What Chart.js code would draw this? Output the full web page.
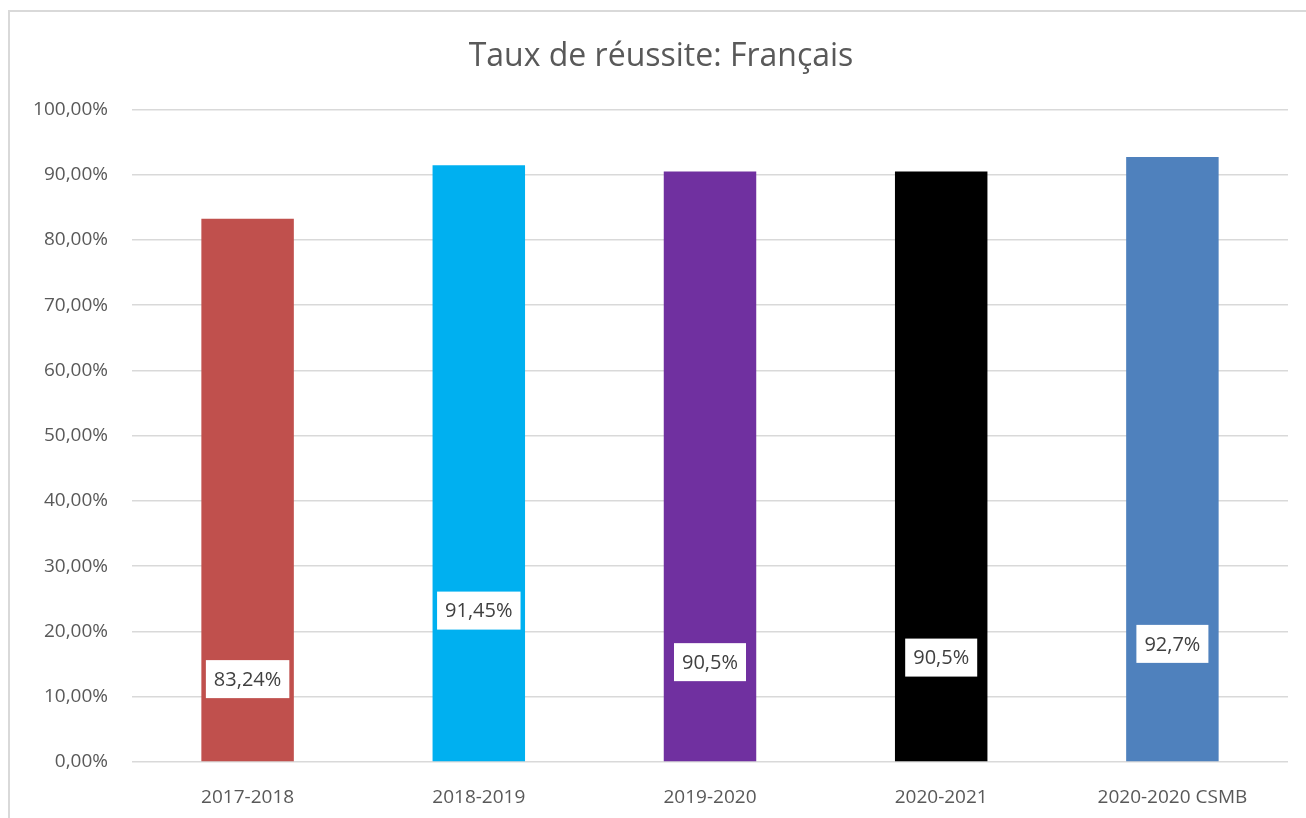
<!DOCTYPE html>
<html lang="fr">
<head>
    <meta charset="UTF-8">
    <title>Taux de réussite: Français</title>
    <script src="https://cdn.jsdelivr.net/npm/chart.js"></script>
    <style>
        html, body {
            margin: 0;
            padding: 0;
            background: #ffffff;
            overflow: hidden;
        }
        .frame {
            position: absolute;
            left: 8px;
            top: 10px;
            width: 1310px;
            height: 820px;
            border: 2px solid #d9d9d9;
            box-sizing: border-box;
        }
        .chart-box {
            position: absolute;
            left: 0;
            top: 0;
            width: 1306px;
            height: 818px;
        }
    </style>
</head>
<body>
    <div class="frame"></div>
    <div class="chart-box">
        <canvas id="tauxChart"></canvas>
    </div>

    <script>
        const categories = ['2017-2018', '2018-2019', '2019-2020', '2020-2021', '2020-2020 CSMB'];
        const rates = [83.24, 91.45, 90.5, 90.5, 92.7];
        const rateLabels = ['83,24%', '91,45%', '90,5%', '90,5%', '92,7%'];
        const barColors = ['#C0504D', '#00B0F0', '#7030A0', '#000000', '#4F81BD'];
        // where each value label sits on the y axis (it was dragged by hand in the original)
        const labelAt = [12.7, 23.2, 15.3, 16.0, 18.1];
        const yTicks = [0, 10, 20, 30, 40, 50, 60, 70, 80, 90, 100];

        const fontFamily = "'Open Sans', 'Noto Sans', sans-serif";

        // white boxes with the values, drawn on top of the bars
        const valueBoxes = {
            id: 'valueBoxes',
            afterDatasetsDraw(chart) {
                const ctx = chart.ctx;
                const meta = chart.getDatasetMeta(0);
                const yScale = chart.scales.y;
                ctx.save();
                ctx.font = '20px ' + fontFamily;
                ctx.textAlign = 'center';
                ctx.textBaseline = 'middle';
                meta.data.forEach((bar, i) => {
                    const text = rateLabels[i];
                    const w = ctx.measureText(text).width + 16;
                    const h = 38;
                    const cy = yScale.getPixelForValue(labelAt[i]);
                    ctx.fillStyle = '#ffffff';
                    ctx.fillRect(bar.x - w / 2, cy - h / 2, w, h);
                    ctx.fillStyle = '#404040';
                    ctx.fillText(text, bar.x, cy + 1);
                });
                ctx.restore();
            }
        };

        new Chart(document.getElementById('tauxChart'), {
            type: 'bar',
            data: {
                labels: categories,
                datasets: [{
                    data: rates,
                    backgroundColor: barColors,
                    barPercentage: 0.4,
                    categoryPercentage: 1.0
                }]
            },
            options: {
                responsive: true,
                maintainAspectRatio: false,
                animation: false,
                layout: {
                    padding: { left: 34, right: 18, top: 20, bottom: 6 }
                },
                plugins: {
                    legend: { display: false },
                    tooltip: { enabled: false },
                    title: {
                        display: true,
                        text: 'Taux de réussite: Français',
                        color: '#595959',
                        font: { family: fontFamily, size: 32, weight: 'normal', lineHeight: 1.2 },
                        padding: { top: 18, bottom: 33 }
                    }
                },
                scales: {
                    x: {
                        grid: { display: false },
                        border: { display: false },
                        afterFit(scale) {
                            scale.height = 50;
                        },
                        ticks: {
                            color: '#595959',
                            font: { family: fontFamily, size: 19 },
                            padding: 16
                        }
                    },
                    y: {
                        min: 0,
                        max: 100,
                        afterBuildTicks(scale) {
                            scale.ticks = yTicks.map(v => ({ value: v }));
                        },
                        afterFit(scale) {
                            scale.width = 98;
                        },
                        grid: {
                            color: '#d9d9d9',
                            lineWidth: 1.5,
                            drawTicks: false
                        },
                        border: { display: false },
                        ticks: {
                            color: '#595959',
                            font: { family: fontFamily, size: 19 },
                            padding: 24,
                            callback: v => v.toFixed(2).replace('.', ',') + '%'
                        }
                    }
                }
            },
            plugins: [valueBoxes]
        });
    </script>
</body>
</html>
